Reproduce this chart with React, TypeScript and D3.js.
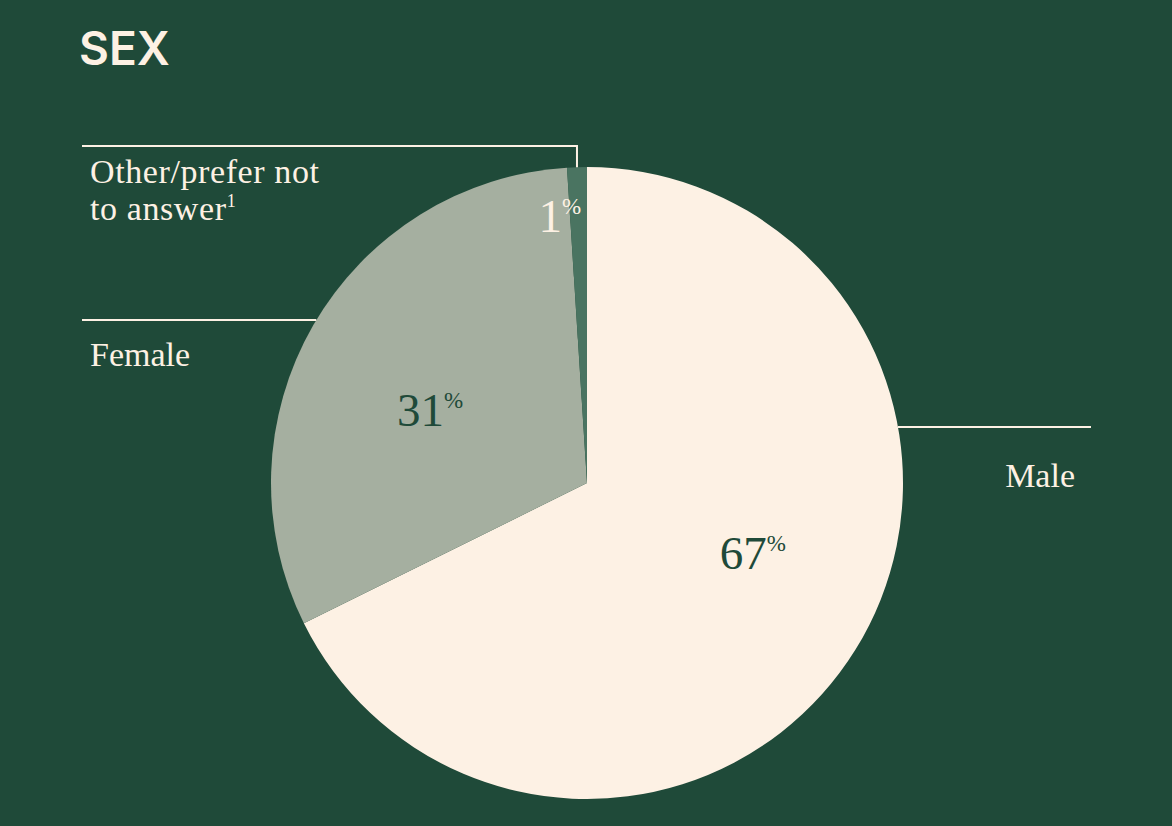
import React from "react";
import * as d3 from "d3";

const categories = ["Male", "Female", "Other/prefer not to answer"];
const values = [67, 31, 1];
const sliceColors = ["#fdf1e4", "#a5afa0", "#4a7461"];
const valueColors = ["#1f4a39", "#1f4a39", "#fdf1e4"];

const W = 1172;
const H = 826;
const BG = "#1f4a39";
const CREAM = "#fdf1e4";
const cx = 587;
const cy = 483;
const R = 316;

// label layout (radius from centre, angle shift in degrees) per slice
const labelLayout = [
  { r: 180, shift: -9 },
  { r: 173, shift: -5 },
  { r: 268, shift: -4 },
];

export default function App() {
  const pie = d3.pie<number>().sort(null).value((d) => d);
  const arcs = pie(values);
  const arcGen = d3.arc<d3.PieArcDatum<number>>().innerRadius(0).outerRadius(R);
  const serif = "'Liberation Serif', 'DejaVu Serif', serif";

  const polar = (angle: number, r: number) => [
    cx + r * Math.sin(angle),
    cy - r * Math.cos(angle),
  ];

  const edgeX = (y: number, side: number) =>
    cx + side * Math.sqrt(R * R - (y - cy) * (y - cy));
  const otherMid = (arcs[2].startAngle + arcs[2].endAngle) / 2;
  const [ox, oy] = polar(otherMid, R);
  const femaleY = 320;
  const maleY = 427;

  return (
    <svg
      width={W}
      height={H}
      style={{ position: "fixed", left: 0, top: 0, display: "block" }}
    >
      <rect x={0} y={0} width={W} height={H} fill={BG} />
      <text
        x={79}
        y={65}
        fill={CREAM}
        fontFamily="Inter, 'Open Sans', sans-serif"
        fontWeight={600}
        fontSize={46}
      >
        SEX
      </text>
      <g transform={`translate(${cx},${cy})`}>
        {arcs.map((a, i) => (
          <path key={categories[i]} d={arcGen(a) || ""} fill={sliceColors[i]} />
        ))}
      </g>
      <g stroke={CREAM} strokeWidth={2} fill="none">
        <polyline points={`82,146 ${ox},146 ${ox},${oy}`} />
        <line x1={82} y1={femaleY} x2={edgeX(femaleY, -1)} y2={femaleY} />
        <line x1={edgeX(maleY, 1)} y1={maleY} x2={1091} y2={maleY} />
      </g>
      <g fill={CREAM} fontFamily={serif} fontSize={34}>
        <text x={90} y={183} letterSpacing={0.6}>Other/prefer not</text>
        <text x={90} y={220} letterSpacing={0.6}>
          to answer
          <tspan fontSize={18} dy={-13}>1</tspan>
        </text>
        <text x={90} y={366}>{categories[1]}</text>
        <text x={1075} y={487} textAnchor="end">{categories[0]}</text>
      </g>
      {arcs.map((a, i) => {
        const mid = (a.startAngle + a.endAngle) / 2 + (labelLayout[i].shift * Math.PI) / 180;
        const [lx, ly] = polar(mid, labelLayout[i].r);
        return (
          <text
            key={"v" + i}
            x={lx}
            y={ly + 16}
            textAnchor="middle"
            fill={valueColors[i]}
            fontFamily={serif}
            fontSize={47}
          >
            {values[i]}
            <tspan fontSize={23} dy={-18}>%</tspan>
          </text>
        );
      })}
    </svg>
  );
}
